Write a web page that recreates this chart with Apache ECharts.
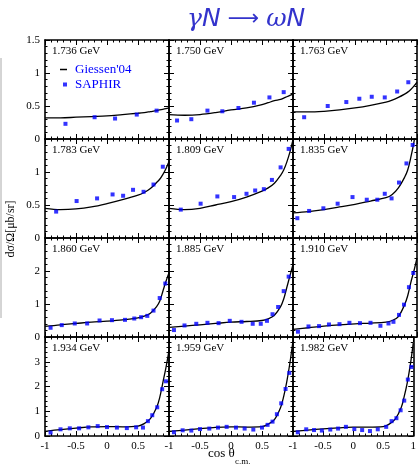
<!DOCTYPE html>
<html><head><meta charset="utf-8">
<script src="https://cdn.jsdelivr.net/npm/echarts@6/dist/echarts.min.js"></script>
<style>html,body{margin:0;padding:0;background:#fff}#c{width:419px;height:468px}</style>
</head><body><div id="c"></div><script>
// ---- data ----
const energies = ['1.736 GeV','1.750 GeV','1.763 GeV','1.783 GeV','1.809 GeV','1.835 GeV',
                  '1.860 GeV','1.885 GeV','1.910 GeV','1.934 GeV','1.959 GeV','1.982 GeV'];
const xTicks = [-1, -0.5, 0, 0.5, 1];
const rowYMax = [1.5, 1.5, 3, 4];
const rowYInterval = [0.5, 0.5, 1, 1];

// Giessen'04 model curve, sampled at curveX
const curveX = [-1, -0.75, -0.5, -0.25, 0, 0.25, 0.5, 0.6, 0.7, 0.8, 0.85, 0.9, 0.95, 1];
const g1736 = [0.32,0.32,0.33,0.34,0.35,0.37,0.39,0.40,0.415,0.43,0.44,0.45,0.46,0.47];
const g1750 = [0.37,0.36,0.37,0.40,0.44,0.47,0.52,0.55,0.58,0.60,0.62,0.64,0.66,0.68];
const g1763 = [0.41,0.41,0.42,0.44,0.47,0.51,0.56,0.59,0.63,0.68,0.71,0.75,0.80,0.86];
const g1783 = [0.45,0.43,0.44,0.47,0.52,0.58,0.65,0.69,0.75,0.84,0.89,0.96,1.05,1.16];
const g1809 = [0.45,0.43,0.45,0.50,0.55,0.62,0.71,0.76,0.83,0.95,1.03,1.15,1.30,1.49];
const g1835 = [0.38,0.40,0.43,0.47,0.51,0.56,0.61,0.66,0.76,0.92,1.03,1.22,1.45,1.75];
const g1860 = [0.32,0.37,0.41,0.45,0.48,0.52,0.58,0.63,0.72,0.92,1.08,1.38,1.68,1.95];
const g1885 = [0.29,0.33,0.37,0.41,0.45,0.47,0.50,0.55,0.66,0.92,1.15,1.50,1.85,2.20];
const g1910 = [0.23,0.28,0.33,0.37,0.40,0.42,0.45,0.50,0.62,0.98,1.25,1.65,2.00,2.40];
const g1934 = [0.19,0.26,0.32,0.37,0.38,0.37,0.40,0.50,0.70,1.15,1.55,2.15,2.75,3.45];
const g1959 = [0.19,0.24,0.30,0.35,0.37,0.36,0.38,0.48,0.66,1.15,1.60,2.20,2.95,3.85];
const g1982 = [0.19,0.24,0.29,0.33,0.36,0.36,0.38,0.48,0.68,1.15,1.60,2.15,2.85,3.75];

// SAPHIR data points [cos theta, dsigma/dOmega]
const s1736 = [[-0.67,0.23],[-0.20,0.33],[0.13,0.31],[0.48,0.37],[0.80,0.43]];
const s1750 = [[-0.87,0.28],[-0.64,0.30],[-0.38,0.43],[-0.14,0.42],[0.12,0.47],[0.37,0.55],[0.62,0.63],[0.85,0.71]];
const s1763 = [[-0.82,0.33],[-0.44,0.50],[-0.14,0.56],[0.07,0.61],[0.27,0.64],[0.48,0.63],[0.68,0.72],[0.86,0.86]];
const s1783 = [[-0.82,0.40],[-0.49,0.56],[-0.16,0.60],[0.09,0.66],[0.26,0.64],[0.42,0.73],[0.59,0.70],[0.75,0.81],[0.90,1.08]];
const s1809 = [[-0.81,0.43],[-0.49,0.52],[-0.22,0.63],[0.05,0.62],[0.25,0.67],[0.39,0.72],[0.53,0.74],[0.66,0.88],[0.80,1.07],[0.93,1.35]];
const s1835 = [[-0.93,0.30],[-0.74,0.41],[-0.51,0.45],[-0.28,0.52],[-0.04,0.62],[0.19,0.58],[0.36,0.58],[0.48,0.67],[0.59,0.60],[0.71,0.84],[0.83,1.13],[0.93,1.41]];
const s1860 = [[-0.91,0.28],[-0.73,0.36],[-0.52,0.41],[-0.32,0.41],[-0.12,0.50],[0.08,0.51],[0.29,0.52],[0.44,0.56],[0.55,0.60],[0.65,0.64],[0.75,0.80],[0.85,1.18],[0.94,1.62]];
const s1885 = [[-0.92,0.21],[-0.75,0.35],[-0.56,0.40],[-0.38,0.43],[-0.20,0.42],[-0.02,0.49],[0.17,0.46],[0.35,0.40],[0.48,0.40],[0.58,0.49],[0.67,0.69],[0.76,0.91],[0.85,1.39],[0.93,1.83]];
const s1910 = [[-0.92,0.16],[-0.75,0.32],[-0.58,0.33],[-0.42,0.38],[-0.25,0.39],[-0.09,0.43],[0.08,0.42],[0.25,0.43],[0.41,0.34],[0.54,0.41],[0.62,0.46],[0.71,0.67],[0.79,0.98],[0.87,1.51],[0.94,1.94]];
const s1934 = [[-0.91,0.14],[-0.75,0.27],[-0.60,0.31],[-0.45,0.31],[-0.30,0.35],[-0.15,0.40],[0.00,0.36],[0.16,0.34],[0.32,0.32],[0.47,0.35],[0.58,0.34],[0.66,0.60],[0.73,0.84],[0.81,1.16],[0.89,1.89],[0.95,2.21]];
const s1959 = [[-0.92,0.15],[-0.78,0.23],[-0.64,0.22],[-0.50,0.28],[-0.35,0.30],[-0.21,0.34],[-0.07,0.37],[0.08,0.34],[0.22,0.30],[0.36,0.26],[0.50,0.34],[0.59,0.45],[0.67,0.58],[0.74,0.88],[0.81,1.32],[0.88,1.90],[0.94,2.55]];
const s1982 = [[-0.92,0.15],[-0.78,0.27],[-0.65,0.24],[-0.52,0.22],[-0.38,0.26],[-0.25,0.30],[-0.12,0.37],[0.02,0.28],[0.15,0.24],[0.28,0.20],[0.41,0.27],[0.55,0.37],[0.64,0.60],[0.72,0.72],[0.79,1.04],[0.85,1.43],[0.91,2.28],[0.97,2.79]];

const curves = [g1736,g1750,g1763,g1783,g1809,g1835,g1860,g1885,g1910,g1934,g1959,g1982];
const points = [s1736,s1750,s1763,s1783,s1809,s1835,s1860,s1885,s1910,s1934,s1959,s1982];

// ---- layout ----
const colLeft = [45, 169, 293];
const rowTop = [40, 139, 238, 337];
const panelW = 124, panelH = 99;
const SERIF = '"Liberation Serif","DejaVu Serif",serif';
const BLUE = '#0000ff';

const grids = [], xAxes = [], yAxes = [], series = [], graphics = [];
const axisLineStyle = {onZero: false, lineStyle: {color: '#000', width: 1.6}};
for (let i = 0; i < 12; i++) {
  const r = Math.floor(i / 3), c = i % 3;
  grids.push({left: colLeft[c], top: rowTop[r], width: panelW, height: panelH, containLabel: false});
  const xBase = {
    gridIndex: i, type: 'value', min: xTicks[0], max: xTicks[xTicks.length - 1], interval: 0.5,
    axisLine: axisLineStyle, splitLine: {show: false},
    axisTick: {inside: true, length: 5, lineStyle: {color: '#000', width: 1}},
    minorTick: {show: true, splitNumber: 5, length: 2.5, lineStyle: {color: '#000', width: 1}}
  };
  xAxes.push(Object.assign({}, xBase, {position: 'bottom',
    axisLabel: {show: r === 3, showMaxLabel: c === 2, showMinLabel: true, margin: 5,
      fontFamily: SERIF, fontSize: 11, color: '#000'}}));
  xAxes.push(Object.assign({}, xBase, {position: 'top', axisLabel: {show: false}}));
  const yBase = {
    gridIndex: i, type: 'value', min: 0, max: rowYMax[r], interval: rowYInterval[r],
    axisLine: axisLineStyle, splitLine: {show: false},
    axisTick: {inside: true, length: 5, lineStyle: {color: '#000', width: 1}},
    minorTick: {show: true, splitNumber: 5, length: 2.5, lineStyle: {color: '#000', width: 1}}
  };
  yAxes.push(Object.assign({}, yBase, {position: 'left',
    axisLabel: {show: c === 0, showMaxLabel: r === 0, showMinLabel: true, margin: 5,
      fontFamily: SERIF, fontSize: 11, color: '#000'}}));
  yAxes.push(Object.assign({}, yBase, {position: 'right', axisLabel: {show: false}}));

  series.push({
    name: "Giessen'04", type: 'line', xAxisIndex: 2 * i, yAxisIndex: 2 * i,
    data: curveX.map((x, k) => [x, curves[i][k]]),
    symbol: 'none', smooth: 0.35, clip: true, z: 3,
    lineStyle: {color: '#000', width: 1.3}, itemStyle: {color: '#000'}
  });
  series.push({
    name: 'SAPHIR', type: 'scatter', xAxisIndex: 2 * i, yAxisIndex: 2 * i,
    data: points[i], symbol: 'rect', symbolSize: 4, clip: true, z: 4,
    itemStyle: {color: BLUE}
  });

  graphics.push({type: 'text', left: colLeft[c] + 7, top: rowTop[r] + 6, z: 10,
    style: {text: energies[i], font: '11px ' + SERIF, fill: '#000'}});
}

graphics.push({type: 'text', x: 11, y: 229, rotation: Math.PI / 2, z: 10,
  style: {text: 'dσ/Ω[μb/sr]', font: '12px ' + SERIF, fill: '#000', textAlign: 'center', textVerticalAlign: 'middle'}});
graphics.push({type: 'text', left: 208, top: 447, z: 10,
  style: {text: 'cos θ', font: '13px ' + SERIF, fill: '#000'}});
graphics.push({type: 'text', left: 235, top: 457, z: 10,
  style: {text: 'c.m.', font: '9px ' + SERIF, fill: '#000'}});
graphics.push({type: 'line', z: 1, shape: {x1: 1, y1: 58, x2: 1, y2: 318},
  style: {stroke: '#aaaaaa', lineWidth: 1}});

const option = {
  animation: false,
  backgroundColor: '#fff',
  title: {
    left: 182, top: 2,
    text: '{g|γ}{n|N}{a| ⟶ }{g|ω}{n|N}',
    textStyle: {
      fontWeight: 'normal',
      rich: {
        g: {fontFamily: '"DejaVu Serif",serif', fontStyle: 'italic', fontWeight: 'normal', fontSize: 25, color: '#3333cc'},
        n: {fontFamily: '"DejaVu Sans",sans-serif', fontStyle: 'italic', fontWeight: 'normal', fontSize: 25, color: '#3333cc'},
        a: {fontFamily: '"DejaVu Sans",sans-serif', fontWeight: 'normal', fontSize: 22, color: '#3333cc'}
      }
    }
  },
  legend: [
    {data: [{name: "Giessen'04", icon: 'rect'}], left: 55, top: 58, itemWidth: 7, itemHeight: 1.5, itemGap: 0,
      textStyle: {fontFamily: SERIF, fontSize: 13, color: BLUE, padding: [0, 0, 0, 3]}},
    {data: [{name: 'SAPHIR', icon: 'rect'}], left: 58, top: 73, itemWidth: 4, itemHeight: 4,
      textStyle: {fontFamily: SERIF, fontSize: 13, color: BLUE, padding: [0, 0, 0, 3]}}
  ],
  grid: grids, xAxis: xAxes, yAxis: yAxes, series: series, graphic: graphics
};
const chart = echarts.init(document.getElementById('c'), null, {renderer: 'canvas'});
chart.setOption(option);
</script></body></html>
